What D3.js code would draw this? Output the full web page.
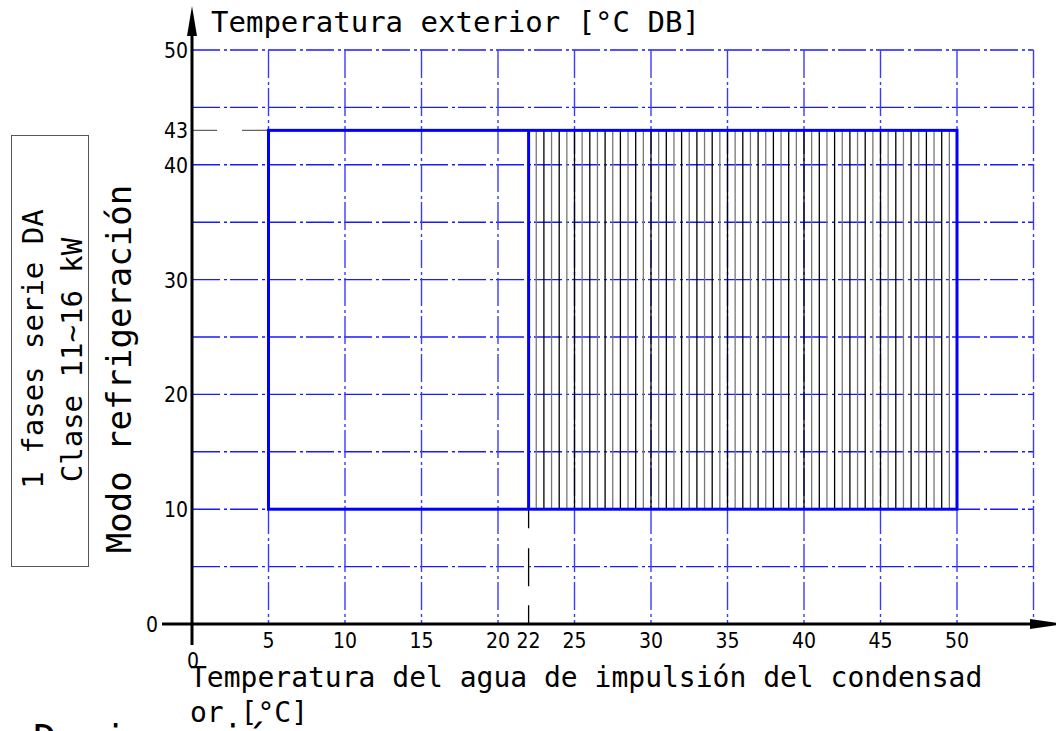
<!DOCTYPE html>
<html>
<head>
<meta charset="utf-8">
<script src="https://cdn.jsdelivr.net/npm/d3@7"></script>
<style>
  body { margin: 0; background: #fff; }
  .mono { font-family: "DejaVu Sans Mono", monospace; fill: #000; }
  .tick-label { font-family: "Liberation Sans Narrow", "DejaVu Sans Condensed", sans-serif; font-size: 21px; fill: #000; }
</style>
</head>
<body>
<div id="chart-area"></div>
<script>
// operating range (cooling mode)
const waterRange = [5, 50];      // water outlet temperature, °C
const coolingSplit = 22;         // start of the hatched zone
const outdoorRange = [10, 43];   // outdoor temperature, °C DB
const hatchStep = 0.5;

// axis ticks and grid
const xTicks = [5, 10, 15, 20, 22, 25, 30, 35, 40, 45, 50];
const yTicks = [10, 20, 30, 40, 43, 50];
const gridX = [5, 10, 15, 20, 25, 30, 35, 40, 45, 50, 55];
const gridY = [5, 10, 15, 20, 25, 30, 35, 40, 45, 50];

const W = 1056, H = 731;

const svg = d3.select("#chart-area")
  .append("svg")
  .attr("width", W)
  .attr("height", H);

const x = d3.scaleLinear().domain([0, 50]).range([192, 957]);
const y = d3.scaleLinear().domain([0, 50]).range([624, 50]);

const gridDash = "28,4,3,3";

// grid
svg.append("g").selectAll("line")
  .data(gridY)
  .enter()
  .append("line")
  .attr("x1", x(0)).attr("x2", x(55))
  .attr("y1", d => y(d)).attr("y2", d => y(d))
  .attr("stroke", "#1a1aff")
  .attr("stroke-width", 1.4)
  .attr("stroke-dasharray", gridDash);

svg.append("g").selectAll("line")
  .data(gridX)
  .enter()
  .append("line")
  .attr("x1", d => x(d)).attr("x2", d => x(d))
  .attr("y1", y(50)).attr("y2", y(0))
  .attr("stroke", "#3a3aff")
  .attr("stroke-width", 1.4)
  .attr("stroke-dasharray", gridDash);

// hatching of the zone 22..50
const hatch = d3.range(coolingSplit + hatchStep, waterRange[1], hatchStep);
svg.append("g").selectAll("line")
  .data(hatch)
  .enter()
  .append("line")
  .attr("x1", d => x(d)).attr("x2", d => x(d))
  .attr("y1", y(outdoorRange[1])).attr("y2", y(outdoorRange[0]))
  .attr("stroke", (d, i) => i % 2 ? "#000" : "#777")
  .attr("stroke-width", 1.3);

// reference lines
svg.append("line")
  .attr("x1", x(0)).attr("x2", x(waterRange[0]))
  .attr("y1", y(outdoorRange[1])).attr("y2", y(outdoorRange[1]))
  .attr("stroke", "#666")
  .attr("stroke-width", 1.3)
  .attr("stroke-dasharray", "25,25");

svg.append("line")
  .attr("x1", x(coolingSplit)).attr("x2", x(coolingSplit))
  .attr("y1", y(outdoorRange[0])).attr("y2", y(0))
  .attr("stroke", "#000")
  .attr("stroke-width", 1.3)
  .attr("stroke-dasharray", "19,20,38,19");

// operating envelope
svg.append("rect")
  .attr("x", x(waterRange[0]))
  .attr("y", y(outdoorRange[1]))
  .attr("width", x(waterRange[1]) - x(waterRange[0]))
  .attr("height", y(outdoorRange[0]) - y(outdoorRange[1]))
  .attr("fill", "none")
  .attr("stroke", "#0000ff")
  .attr("stroke-width", 3);

svg.append("line")
  .attr("x1", x(coolingSplit)).attr("x2", x(coolingSplit))
  .attr("y1", y(outdoorRange[1])).attr("y2", y(outdoorRange[0]))
  .attr("stroke", "#0000ff")
  .attr("stroke-width", 3);

// axes
svg.append("line")
  .attr("x1", 162).attr("x2", 1032)
  .attr("y1", y(0)).attr("y2", y(0))
  .attr("stroke", "#000").attr("stroke-width", 3);
svg.append("path")
  .attr("d", "M1030," + (y(0) - 5) + "L1064," + y(0) + "L1030," + (y(0) + 5) + "Z")
  .attr("fill", "#000");

svg.append("line")
  .attr("x1", x(0)).attr("x2", x(0))
  .attr("y1", 645).attr("y2", 34)
  .attr("stroke", "#000").attr("stroke-width", 3);
svg.append("path")
  .attr("d", "M" + (x(0) - 5) + ",36L" + x(0) + ",6L" + (x(0) + 5) + ",36Z")
  .attr("fill", "#000");

// tick labels
svg.append("g").selectAll("text")
  .data(xTicks)
  .enter()
  .append("text")
  .attr("class", "tick-label")
  .attr("x", d => x(d))
  .attr("y", 648)
  .attr("text-anchor", "middle")
  .text(d => d);

svg.append("text")
  .attr("class", "tick-label")
  .attr("x", x(0) + 1)
  .attr("y", 668)
  .attr("text-anchor", "middle")
  .text("0");

svg.append("g").selectAll("text")
  .data(yTicks)
  .enter()
  .append("text")
  .attr("class", "tick-label")
  .attr("x", 188)
  .attr("y", d => y(d) + 8)
  .attr("text-anchor", "end")
  .text(d => d);

svg.append("text")
  .attr("class", "tick-label")
  .attr("x", 158)
  .attr("y", y(0) + 8)
  .attr("text-anchor", "end")
  .text("0");

// titles
svg.append("text")
  .attr("class", "mono")
  .attr("x", 211)
  .attr("y", 32)
  .attr("font-size", "29px")
  .text("Temperatura exterior [°C DB]");

svg.append("text")
  .attr("class", "mono")
  .attr("x", 190)
  .attr("y", 687)
  .attr("font-size", "28px")
  .text("Temperatura del agua de impulsión del condensad");

svg.append("text")
  .attr("class", "mono")
  .attr("x", 190)
  .attr("y", 722)
  .attr("font-size", "28px")
  .text("or [°C]");

svg.append("text")
  .attr("class", "mono")
  .attr("transform", "translate(131, 369) rotate(-90)")
  .attr("text-anchor", "middle")
  .attr("font-size", "34px")
  .text("Modo refrigeración");

// model box
svg.append("rect")
  .attr("x", 11.5).attr("y", 135.5)
  .attr("width", 77).attr("height", 431)
  .attr("fill", "none")
  .attr("stroke", "#555")
  .attr("stroke-width", 1);

svg.append("text")
  .attr("class", "mono")
  .attr("transform", "translate(43, 349) rotate(-90)")
  .attr("text-anchor", "middle")
  .attr("font-size", "29px")
  .text("1 fases serie DA");

svg.append("text")
  .attr("class", "mono")
  .attr("transform", "translate(82, 360) rotate(-90)")
  .attr("text-anchor", "middle")
  .attr("font-size", "29px")
  .text("Clase 11~16 kW");

svg.append("text")
  .attr("class", "mono")
  .attr("x", 33)
  .attr("y", 753)
  .attr("font-size", "39px")
  .text("Designación");
</script>
</body>
</html>
